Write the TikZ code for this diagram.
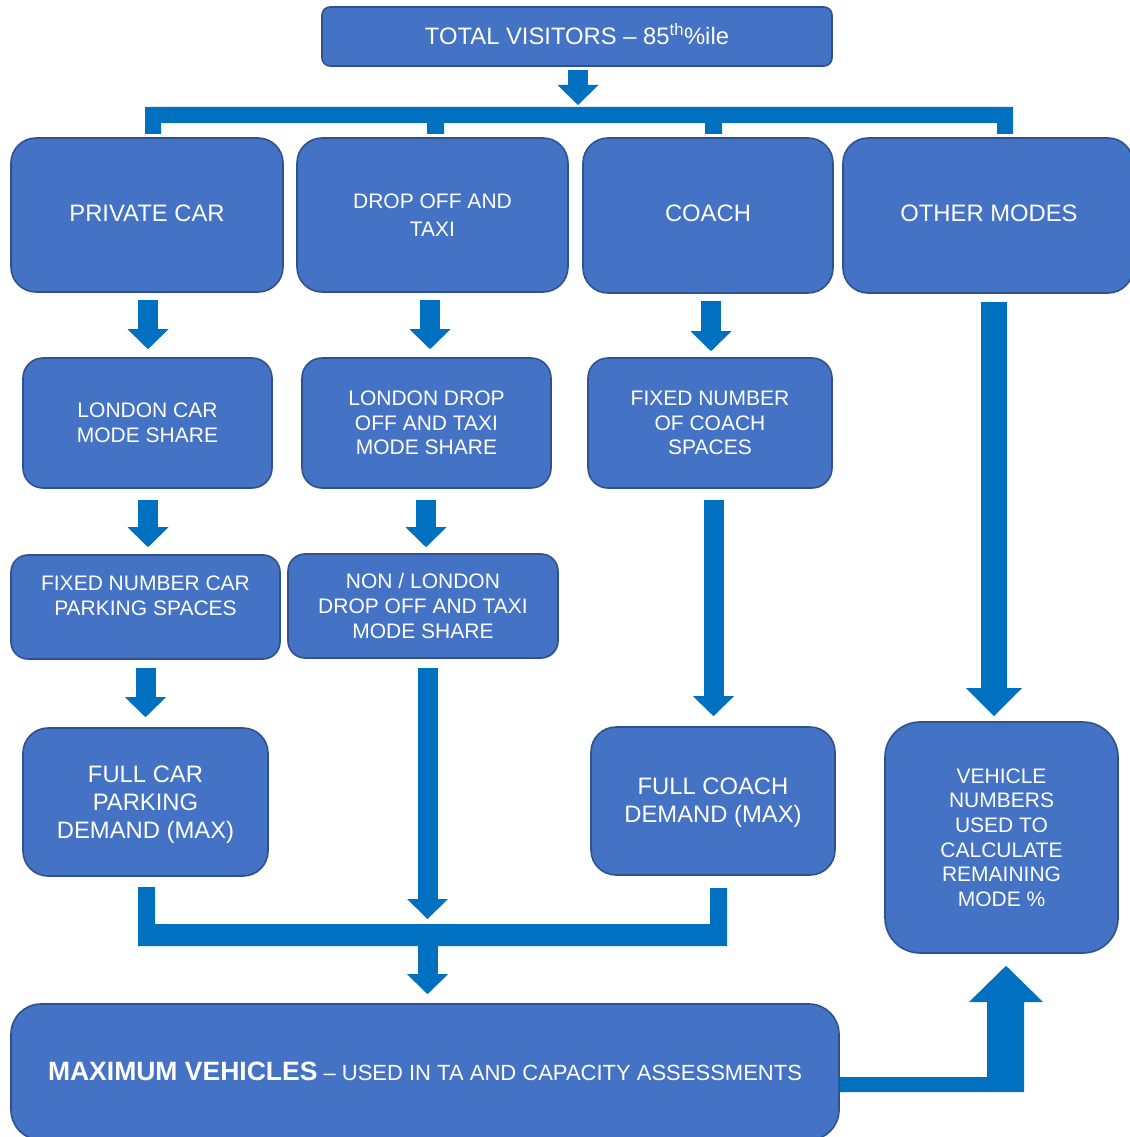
\documentclass[tikz,border=0pt]{standalone}
\usepackage{fontspec}
\setmainfont{Liberation Sans}
\usetikzlibrary{arrows.meta,calc}
\definecolor{boxfill}{HTML}{4472C4}
\definecolor{boxline}{HTML}{2F528F}
\definecolor{arrowblue}{HTML}{0070C0}
\newcommand{\fbig}{\fontsize{23.8}{28}\selectfont}
\newcommand{\fsmall}{\fontsize{21}{24.6}\selectfont}
\newcommand{\fsmallwide}{\fontsize{21}{28}\selectfont}
\begin{document}
\begin{tikzpicture}[x=1pt,y=-1pt,
  box/.style={draw=boxline, line width=1.6pt, fill=boxfill, text=white,
    align=center, inner sep=0pt, rounded corners=#1},
  box/.default=22pt,
  boxtext/.style={text=white, align=center, inner sep=0pt},
  blk/.style={draw=arrowblue, line width=20pt,
    -{Triangle[width=41pt,length=20pt,line width=0pt]}},
  bigblk/.style={draw=arrowblue, line width=26pt,
    -{Triangle[width=56pt,length=28pt,line width=0pt]}},
  bar/.style={fill=arrowblue}]
\useasboundingbox (0,0) rectangle (1129,1137);

% boxes
\node[box=8pt, minimum width=510pt, minimum height=59pt] (tot) at (577,36.5) {};
\node[boxtext, font=\fbig] (tott) at ($(tot.center)+(0,-2)$)
  {TOTAL VISITORS – 85\textsuperscript{th}\%ile};
\node[box=25pt, minimum width=272pt, minimum height=154pt] (pc) at (147,215) {};
\node[boxtext, font=\fbig] (pct) at ($(pc.center)+(0,-2)$) {PRIVATE CAR};
\node[box=25pt, minimum width=271pt, minimum height=154pt, font=\fsmallwide] (dt) at (432.5,215) {DROP OFF AND\\TAXI};
\node[box=25pt, minimum width=250pt, minimum height=155pt] (co) at (708,215.5) {};
\node[boxtext, font=\fbig] (cot) at ($(co.center)+(0,-2.5)$) {COACH};
\node[box=25pt, minimum width=290pt, minimum height=155pt] (om) at (988,215.5) {};
\node[boxtext, font=\fbig] (omt) at (989,213) {OTHER MODES};

\node[box=20pt, minimum width=249pt, minimum height=130pt, font=\fsmall] (lc) at (147.5,423) {LONDON CAR\\MODE SHARE};
\node[box=20pt, minimum width=249pt, minimum height=130pt, font=\fsmall] (ld) at (426.5,423) {LONDON DROP\\OFF AND TAXI\\MODE SHARE};
\node[box=20pt, minimum width=244pt, minimum height=130pt, font=\fsmall] (fc) at (710,423) {FIXED NUMBER\\OF COACH\\SPACES};

\node[box=17pt, minimum width=269pt, minimum height=104pt] (fn) at (145.5,607) {};
\node[boxtext, font=\fsmall] (fnt) at ($(fn.center)+(0,-11)$) {FIXED NUMBER CAR\\PARKING SPACES};
\node[box=17pt, minimum width=270pt, minimum height=104pt, font=\fsmall] (nl) at (423,606) {NON / LONDON\\DROP OFF AND TAXI\\MODE SHARE};

\node[box=25pt, minimum width=245pt, minimum height=148pt] (fcar) at (145.5,802) {};
\node[boxtext, font=\fbig] (fcart) at ($(fcar.center)+(0,3)$) {FULL CAR\\PARKING\\DEMAND (MAX)};
\node[box=25pt, minimum width=244pt, minimum height=148pt] (fco) at (713,801) {};
\node[boxtext, font=\fbig] (fcot) at ($(fco.center)+(0,2)$) {FULL COACH\\DEMAND (MAX)};
\node[box=35pt, minimum width=233pt, minimum height=231pt, font=\fsmall] (vn) at (1001.5,837.5)
  {VEHICLE\\NUMBERS\\USED TO\\CALCULATE\\REMAINING\\MODE \%};

\node[box=30pt, minimum width=828pt, minimum height=136pt] (mx) at (425,1072) {};
\node[boxtext] (mxt) at (425,1071)
  {{\fontsize{26.5}{30}\selectfont\bfseries MAXIMUM VEHICLES}\fontsize{22}{26}\selectfont{} – USED IN TA AND CAPACITY ASSESSMENTS};

% top arrow and bracket
\coordinate (tb) at (578,107);
\draw[blk] ($(tot.south)+(1,3)$) -- ($(tb)+(0,-2)$);
\fill[bar] (145,107) -- (1013,107) -- (1013,134) -- (997,134) -- (997,123) -- (722,123)
  -- (722,134) -- (705,134) -- (705,123) -- (444,123) -- (444,134) -- (427,134)
  -- (427,123) -- (161,123) -- (161,134) -- (145,134) -- cycle;

% short arrows
\draw[blk] ($(pc.south)+(1,7)$) -- ($(lc.north)+(0.5,-8)$);
\draw[blk] ($(dt.south)+(-2.5,7)$) -- ($(ld.north)+(3.5,-8)$);
\draw[blk] ($(co.south)+(3,7)$) -- ($(fc.north)+(1,-6)$);
\draw[blk] ($(lc.south)+(0.5,11)$) -- ($(fn.north)+(2.5,-7)$);
\draw[blk] ($(ld.south)+(-0.5,11)$) -- ($(nl.north)+(3,-6)$);
\draw[blk] ($(fn.south)+(0,8)$) -- ($(fcar.north)+(0,-10)$);

% long arrows
\coordinate (jn) at (427.5,935);
\draw[blk] ($(nl.south)+(4.5,9)$) -- ($(jn)+(0,-16)$);
\draw[blk] ($(fc.south)+(3.5,11)$) -- ($(fco.north)+(0.5,-10)$);
\draw[bigblk] ($(om.south)+(6,8)$) -- ($(vn.north)+(-7.5,-5)$);

% bottom bracket
\fill[bar] (138,887) -- (155,887) -- (155,924) -- (710,924) -- (710,888) -- (727,888)
  -- (727,946) -- (138,946) -- cycle;
\draw[blk] ($(jn)+(0,11)$) -- ($(mx.north)+(2.5,-9)$);

% elbow arrow to vehicle numbers
\fill[bar] (mx.east |- 0,1077) -- (987,1077) -- (987,1002) -- (969,1002) -- ($(vn.south)+(4.5,12)$)
  -- (1043,1002) -- (1024,1002) -- (1024,1092) -- (mx.east |- 0,1092) -- cycle;
\end{tikzpicture}
\end{document}
